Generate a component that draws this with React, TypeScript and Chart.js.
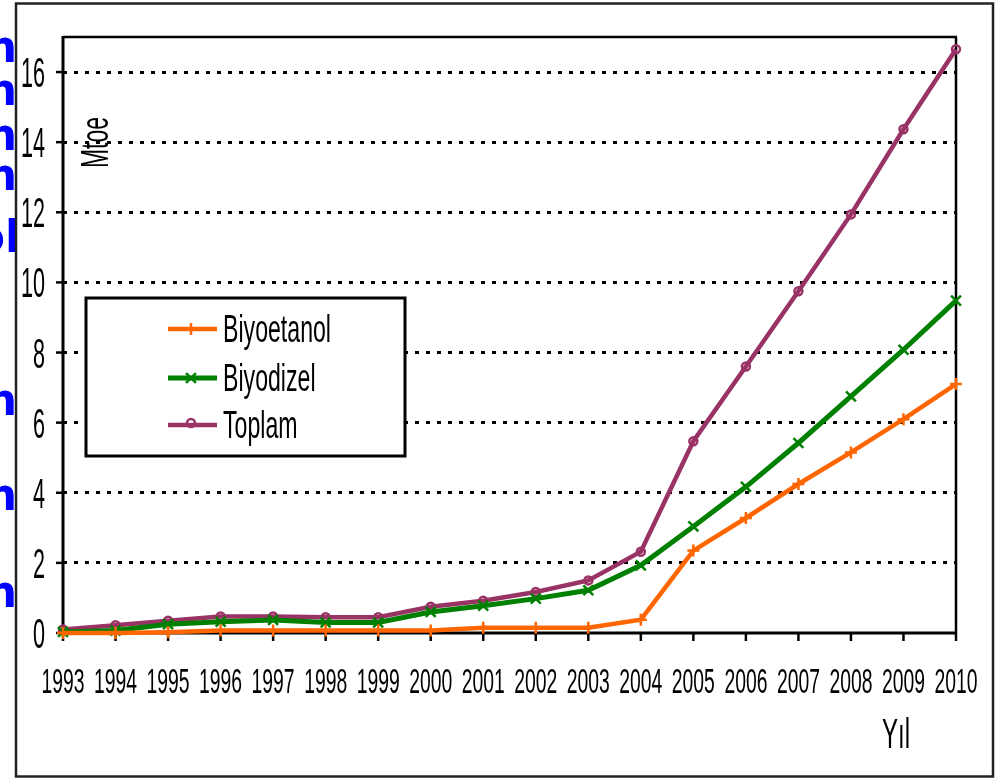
import React, { useEffect, useRef } from 'react';
import { Chart, registerables } from 'chart.js';
import { drawPoint } from 'chart.js/helpers';

Chart.register(...registerables);

const years = ['1993', '1994', '1995', '1996', '1997', '1998', '1999', '2000', '2001', '2002', '2003', '2004', '2005', '2006', '2007', '2008', '2009', '2010'];
const biyoetanol = [0, 0, 0.02, 0.07, 0.07, 0.07, 0.07, 0.07, 0.15, 0.15, 0.15, 0.38, 2.35, 3.28, 4.25, 5.15, 6.1, 7.1];
const biyodizel = [0.03, 0.07, 0.25, 0.32, 0.37, 0.3, 0.3, 0.6, 0.78, 0.98, 1.22, 1.93, 3.04, 4.17, 5.42, 6.75, 8.08, 9.48];
const toplam = [0.1, 0.22, 0.35, 0.47, 0.47, 0.45, 0.45, 0.75, 0.92, 1.17, 1.5, 2.32, 5.47, 7.6, 9.75, 11.94, 14.37, 16.65];
const seriesNames = ['Biyoetanol', 'Biyodizel', 'Toplam'];
const yAxisTitle = 'Mtoe';
const xAxisTitle = 'Yıl';
const sideFragments = ['n', 'n', 'n', 'n', 'ol', 'n', 'n', 'n'];

const FONT = '"Liberation Sans Narrow", "Liberation Sans", Arial, sans-serif';

function fitScale(ctx: CanvasRenderingContext2D, size: number, sample: string, target: number) {
  ctx.save();
  ctx.font = `${size}px ${FONT}`;
  const w = ctx.measureText(sample).width;
  ctx.restore();
  return w > 0 ? target / w : 1;
}

function drawText(
  ctx: CanvasRenderingContext2D,
  s: string,
  x: number,
  y: number,
  size: number,
  sx: number,
  align: CanvasTextAlign,
  rotate = 0,
  font = FONT,
  color = '#000',
  weight = ''
) {
  ctx.save();
  ctx.translate(x, y);
  if (rotate) ctx.rotate(rotate);
  ctx.scale(sx, 1);
  ctx.font = `${weight} ${size}px ${font}`;
  ctx.fillStyle = color;
  ctx.textAlign = align;
  ctx.textBaseline = 'alphabetic';
  ctx.fillText(s, 0, 0);
  ctx.restore();
}

function line(ctx: CanvasRenderingContext2D, x1: number, y1: number, x2: number, y2: number, w: number, color = '#000') {
  ctx.save();
  ctx.strokeStyle = color;
  ctx.lineWidth = w;
  ctx.setLineDash([]);
  ctx.beginPath();
  ctx.moveTo(x1, y1);
  ctx.lineTo(x2, y2);
  ctx.stroke();
  ctx.restore();
}

const decor = {
  id: 'decor',
  beforeDatasetsDraw(chart: any) {
    const ctx = chart.ctx as CanvasRenderingContext2D;
    const { left, right, top, bottom } = chart.chartArea;
    const xs = chart.scales.x;
    const ys = chart.scales.y;
    line(ctx, left, top, right + 1, top, 2.5);
    line(ctx, right, top, right, bottom, 2.5);
    line(ctx, left, top - 1, left, bottom + 1.5, 3);
    line(ctx, left - 1.5, bottom, right + 1, bottom, 3);
    ys.ticks.forEach((t: any) => {
      const py = ys.getPixelForValue(t.value);
      line(ctx, left - 7, py, left, py, 2.5);
    });
    years.forEach((_, i) => {
      const px = xs.getPixelForTick(i);
      line(ctx, px, bottom, px, bottom + 8, 2.5);
    });
  },
  afterDatasetsDraw(chart: any) {
    const ctx = chart.ctx as CanvasRenderingContext2D;
    // legend box
    const bx = 86, by = 298, bw = 319, bh = 158;
    ctx.save();
    ctx.fillStyle = '#fff';
    ctx.fillRect(bx, by, bw, bh);
    ctx.strokeStyle = '#000';
    ctx.lineWidth = 3;
    ctx.strokeRect(bx, by, bw, bh);
    ctx.restore();
    const rowY = [329, 378, 425];
    const legSx = fitScale(ctx, 39, seriesNames[0], 108);
    chart.data.datasets.forEach((ds: any, i: number) => {
      const y = rowY[i];
      line(ctx, 168, y, 217, y, ds.borderWidth, ds.borderColor);
      ctx.save();
      ctx.strokeStyle = ds.pointBorderColor;
      ctx.fillStyle = ds.pointBackgroundColor;
      ctx.lineWidth = ds.pointBorderWidth;
      drawPoint(ctx, { pointStyle: ds.pointStyle, radius: ds.pointRadius, rotation: 0, borderWidth: ds.pointBorderWidth } as any, 191, i === 2 ? y - 2 : y);
      ctx.restore();
      drawText(ctx, ds.label, 223, y + 13, 39, legSx, 'left');
    });
  },
  afterDraw(chart: any) {
    const ctx = chart.ctx as CanvasRenderingContext2D;
    const { left, bottom } = chart.chartArea;
    const xs = chart.scales.x;
    const ys = chart.scales.y;
    // y tick labels
    const ySx = fitScale(ctx, 42, '16', 24);
    ys.ticks.forEach((t: any) => {
      const py = ys.getPixelForValue(t.value);
      drawText(ctx, String(t.value), left - 18, py + 15, 42, ySx, 'right');
    });
    // x tick labels
    const xSx = fitScale(ctx, 35, '1993', 43);
    years.forEach((lab, i) => {
      const px = xs.getPixelForTick(i);
      drawText(ctx, lab, px, bottom + 60, 35, xSx, 'center');
    });
    // axis titles
    const mSx = fitScale(ctx, 39, yAxisTitle, 51);
    drawText(ctx, yAxisTitle, 108, 168, 39, mSx, 'left', -Math.PI / 2);
    const ySx2 = fitScale(ctx, 42, xAxisTitle, 28);
    drawText(ctx, xAxisTitle, 882, 748, 42, ySx2, 'left');
    // cut-off blue text at left edge
    const fragY = [62, 105, 150, 190, 252, 415, 510, 607];
    sideFragments.forEach((f, i) => {
      drawText(ctx, f, f === 'ol' ? 20 : 17, fragY[i], 44, 1, 'right', 0, '"DejaVu Sans", sans-serif', '#0000FF', 'bold');
    });
    // white strip right of border so fragments end at border
    ctx.save();
    ctx.fillStyle = '#fff';
    ctx.fillRect(16, 4, 3, 770);
    ctx.restore();
    // outer border
    ctx.save();
    ctx.strokeStyle = '#222';
    ctx.lineWidth = 2.5;
    ctx.strokeRect(16, 3.5, 977, 773);
    ctx.restore();
  },
};

export default function App() {
  const ref = useRef<HTMLCanvasElement | null>(null);
  useEffect(() => {
    document.body.style.margin = '0';
    const canvas = ref.current!;
    const chart = new Chart(canvas, {
      type: 'line',
      data: {
        labels: years,
        datasets: [
          {
            label: seriesNames[0],
            data: biyoetanol,
            borderColor: '#FF6600',
            backgroundColor: '#FF6600',
            borderWidth: 4.5,
            pointStyle: 'cross',
            pointRadius: 6,
            pointBorderWidth: 2.5,
            pointBorderColor: '#FF6600',
            pointBackgroundColor: '#FF6600',
            tension: 0,
            clip: false,
          } as any,
          {
            label: seriesNames[1],
            data: biyodizel,
            borderColor: '#008000',
            backgroundColor: '#008000',
            borderWidth: 5,
            pointStyle: 'crossRot',
            pointRadius: 7,
            pointBorderWidth: 2.5,
            pointBorderColor: '#008000',
            pointBackgroundColor: '#008000',
            tension: 0,
            clip: false,
          } as any,
          {
            label: seriesNames[2],
            data: toplam,
            borderColor: '#993366',
            backgroundColor: '#993366',
            borderWidth: 4.5,
            pointStyle: 'circle',
            pointRadius: 4,
            pointBorderWidth: 2.5,
            pointBorderColor: '#993366',
            pointBackgroundColor: 'rgba(255,255,255,0)',
            tension: 0,
            clip: false,
          } as any,
        ],
      },
      options: {
        responsive: false,
        animation: false,
        devicePixelRatio: 1,
        layout: { padding: { left: 63, top: 37, right: 48, bottom: 146 } },
        plugins: { legend: { display: false }, tooltip: { enabled: false } },
        scales: {
          x: {
            type: 'category',
            offset: false,
            grid: { display: false, drawTicks: false },
            border: { display: false },
            ticks: { display: false },
          },
          y: {
            type: 'linear',
            min: 0,
            max: 17,
            ticks: { display: false, stepSize: 2, includeBounds: false } as any,
            grid: {
              drawTicks: false,
              lineWidth: 3,
              color: (c: any) => (c.tick && c.tick.value > 0 && c.tick.value < 17 ? '#000' : 'rgba(0,0,0,0)'),
            },
            border: { display: false, dash: [4, 7] },
          },
        },
      },
      plugins: [decor],
    });
    return () => chart.destroy();
  }, []);
  return <canvas ref={ref} width={1004} height={779} style={{ display: 'block' }} />;
}
